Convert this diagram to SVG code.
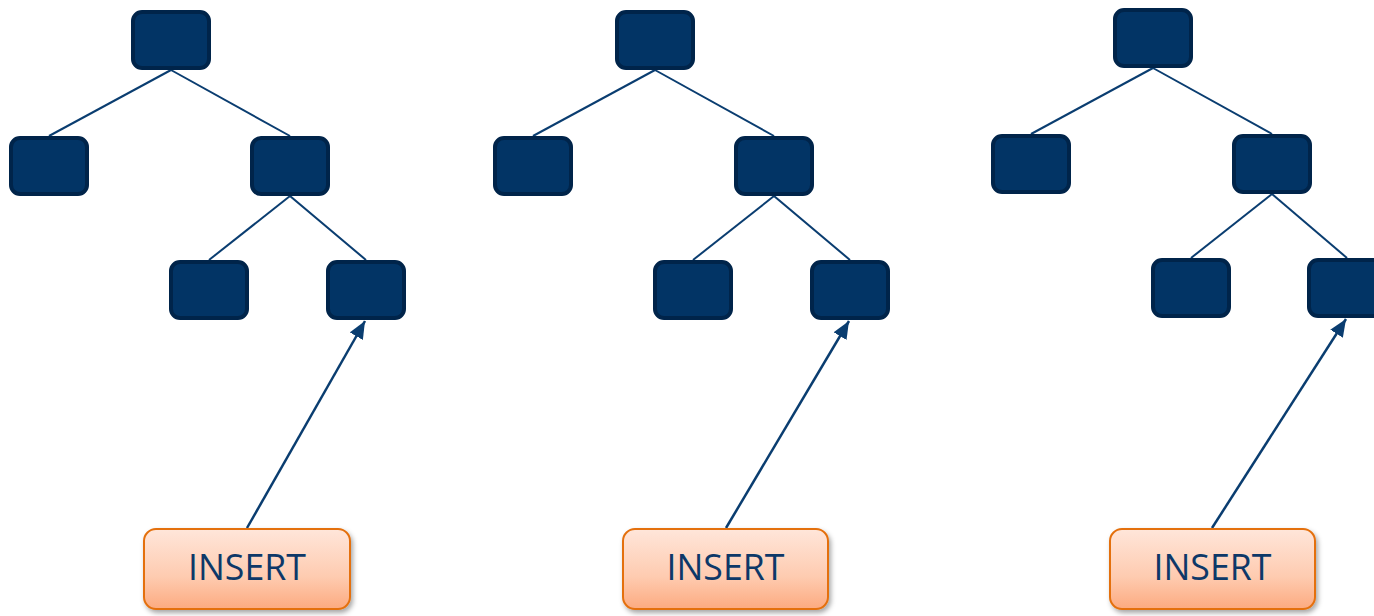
<svg xmlns="http://www.w3.org/2000/svg" width="1374" height="616" viewBox="0 0 1374 616">
<style>
.node{fill:#023465;stroke:#00244A;stroke-width:4}
.edge{stroke:#0A3D70;stroke-width:2;fill:none}
.arrow{stroke:#0A3D70;stroke-width:2.5;fill:none;marker-end:url(#ah)}
.ins{fill:url(#og);stroke:#E4700E;stroke-width:2;filter:url(#sh)}
.lbl{font-family:"Open Sans","Liberation Sans",sans-serif;font-size:37px;fill:#0D3868;text-anchor:middle}
</style>
<defs>
<linearGradient id="og" x1="0" y1="0" x2="0" y2="1">
<stop offset="0" stop-color="#FFE6DA"/>
<stop offset="0.6" stop-color="#FECBB0"/>
<stop offset="1" stop-color="#FCAA80"/>
</linearGradient>
<filter id="sh" x="-10%" y="-10%" width="125%" height="135%">
<feDropShadow dx="2" dy="3" stdDeviation="2.5" flood-color="#000" flood-opacity="0.35"/>
</filter>
<marker id="ah" markerWidth="7" markerHeight="6" refX="7" refY="3" orient="auto" markerUnits="strokeWidth">
<path d="M0,0 L7,3 L0,6 Z" fill="#0A3D70"/>
</marker>
</defs>
<g id="connectors">
<line class="edge" x1="171" y1="70" x2="49" y2="136"/>
<line class="edge" x1="171" y1="70" x2="290" y2="136"/>
<line class="edge" x1="290" y1="196" x2="209" y2="260"/>
<line class="edge" x1="290" y1="196" x2="366" y2="260"/>
<line class="arrow" x1="247" y1="528" x2="365" y2="321"/>
<line class="edge" x1="655" y1="70" x2="533" y2="136"/>
<line class="edge" x1="655" y1="70" x2="774" y2="136"/>
<line class="edge" x1="774" y1="196" x2="693" y2="260"/>
<line class="edge" x1="774" y1="196" x2="850" y2="260"/>
<line class="arrow" x1="726" y1="528" x2="849" y2="321"/>
<line class="edge" x1="1153" y1="68" x2="1031" y2="134"/>
<line class="edge" x1="1153" y1="68" x2="1272" y2="134"/>
<line class="edge" x1="1272" y1="194" x2="1191" y2="258"/>
<line class="edge" x1="1272" y1="194" x2="1347" y2="258"/>
<line class="arrow" x1="1212" y1="528" x2="1346" y2="319"/>
</g>
<g id="t1-root"><rect class="node" x="133" y="12" width="76" height="56" rx="9"/></g>
<g id="t1-left"><rect class="node" x="11" y="138" width="76" height="56" rx="9"/></g>
<g id="t1-right"><rect class="node" x="252" y="138" width="76" height="56" rx="9"/></g>
<g id="t1-rl"><rect class="node" x="171" y="262" width="76" height="56" rx="9"/></g>
<g id="t1-rr"><rect class="node" x="328" y="262" width="76" height="56" rx="9"/></g>
<g id="t1-insert"><rect class="ins" x="144" y="529" width="206" height="80" rx="12"/><text class="lbl" x="247" y="580" textLength="118" lengthAdjust="spacingAndGlyphs">INSERT</text></g>
<g id="t2-root"><rect class="node" x="617" y="12" width="76" height="56" rx="9"/></g>
<g id="t2-left"><rect class="node" x="495" y="138" width="76" height="56" rx="9"/></g>
<g id="t2-right"><rect class="node" x="736" y="138" width="76" height="56" rx="9"/></g>
<g id="t2-rl"><rect class="node" x="655" y="262" width="76" height="56" rx="9"/></g>
<g id="t2-rr"><rect class="node" x="812" y="262" width="76" height="56" rx="9"/></g>
<g id="t2-insert"><rect class="ins" x="623" y="529" width="205" height="80" rx="12"/><text class="lbl" x="725.5" y="580" textLength="118" lengthAdjust="spacingAndGlyphs">INSERT</text></g>
<g id="t3-root"><rect class="node" x="1115" y="10" width="76" height="56" rx="9"/></g>
<g id="t3-left"><rect class="node" x="993" y="136" width="76" height="56" rx="9"/></g>
<g id="t3-right"><rect class="node" x="1234" y="136" width="76" height="56" rx="9"/></g>
<g id="t3-rl"><rect class="node" x="1153" y="260" width="76" height="56" rx="9"/></g>
<g id="t3-rr"><rect class="node" x="1309" y="260" width="76" height="56" rx="9"/></g>
<g id="t3-insert"><rect class="ins" x="1110" y="529" width="205" height="80" rx="12"/><text class="lbl" x="1212.5" y="580" textLength="118" lengthAdjust="spacingAndGlyphs">INSERT</text></g>
</svg>
